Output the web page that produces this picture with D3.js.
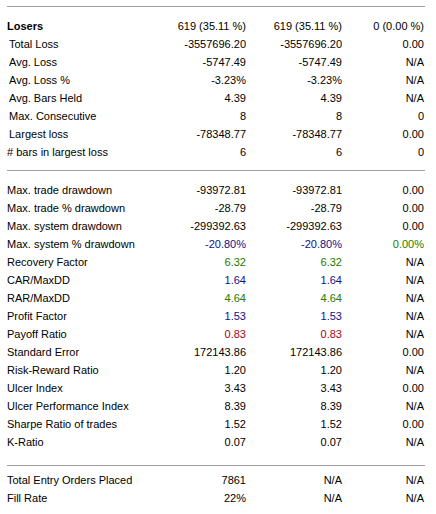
<!DOCTYPE html>
<html>
<head>
<meta charset="utf-8">
<script src="https://cdn.jsdelivr.net/npm/d3@7"></script>
<style>
html,body{margin:0;padding:0;background:#fff;}
svg{display:block;}
text{font-family:"Liberation Sans",Arial,sans-serif;font-size:11px;fill:#000;}
</style>
</head>
<body>
<svg id="chart" width="436" height="514"></svg>
<script>
// Section 1: Losers
const s1Labels = ["Losers","Total Loss","Avg. Loss","Avg. Loss %","Avg. Bars Held","Max. Consecutive","Largest loss","# bars in largest loss"];
const s1All   = ["619 (35.11 %)","-3557696.20","-5747.49","-3.23%","4.39","8","-78348.77","6"];
const s1Long  = ["619 (35.11 %)","-3557696.20","-5747.49","-3.23%","4.39","8","-78348.77","6"];
const s1Short = ["0 (0.00 %)","0.00","N/A","N/A","N/A","0","0.00","0"];

// Section 2: drawdown & ratios
const s2Labels = ["Max. trade drawdown","Max. trade % drawdown","Max. system drawdown","Max. system % drawdown","Recovery Factor","CAR/MaxDD","RAR/MaxDD","Profit Factor","Payoff Ratio","Standard Error","Risk-Reward Ratio","Ulcer Index","Ulcer Performance Index","Sharpe Ratio of trades","K-Ratio"];
const s2All   = ["-93972.81","-28.79","-299392.63","-20.80%","6.32","1.64","4.64","1.53","0.83","172143.86","1.20","3.43","8.39","1.52","0.07"];
const s2Long  = ["-93972.81","-28.79","-299392.63","-20.80%","6.32","1.64","4.64","1.53","0.83","172143.86","1.20","3.43","8.39","1.52","0.07"];
const s2Short = ["0.00","0.00","0.00","0.00%","N/A","N/A","N/A","N/A","N/A","0.00","N/A","0.00","N/A","0.00","N/A"];
// value colour class per row (columns 1-2), and column 3
const s2Tone   = ["","","","blue","green","blue","green","blue","red","","","","","",""];
const s2ToneS  = ["","","","green","","","","","","","","","","",""];

// Section 3: orders
const s3Labels = ["Total Entry Orders Placed","Fill Rate"];
const s3All   = ["7861","22%"];
const s3Long  = ["N/A","N/A"];
const s3Short = ["N/A","N/A"];

const tones = {"":"#000000", blue:"#10108a", green:"#207a00", red:"#a80018"};

const svg = d3.select("#chart");
const colX = d3.scaleOrdinal().domain(["all","long","short"]).range([246,342,424]);

function section(labels, vAll, vLong, vShort, top, opts) {
  opts = opts || {};
  const y = d3.scalePoint().domain(d3.range(labels.length)).range([top, top + 18*(labels.length-1)]);
  const g = svg.append("g");
  const rows = g.selectAll("g.row").data(labels.map((l,i)=>({l,i}))).join("g")
    .attr("transform", d=>`translate(0,${y(d.i)})`);
  rows.append("text")
    .attr("x", d => opts.labelX ? opts.labelX(d.i) : 7)
    .attr("y", 4)
    .style("font-weight", d => (opts.bold && d.i===0) ? "bold" : null)
    .text(d=>d.l);
  const cols = [["all",vAll,opts.tone],["long",vLong,opts.tone],["short",vShort,opts.toneS]];
  cols.forEach(([k,vals,tone])=>{
    rows.append("text")
      .attr("x", colX(k))
      .attr("y", 4)
      .attr("text-anchor","end")
      .style("fill", d => tones[tone ? tone[d.i] : ""])
      .text(d=>vals[d.i]);
  });
}

function rule(yPos){
  svg.append("line").attr("x1",7).attr("x2",425).attr("y1",yPos).attr("y2",yPos)
    .attr("stroke","#a0a0a0").attr("stroke-width",1).attr("shape-rendering","crispEdges");
}

rule(6.5);
section(s1Labels, s1All, s1Long, s1Short, 26, {bold:true, labelX: i => (i===0||i===7) ? 7 : 9});
rule(170.5);
section(s2Labels, s2All, s2Long, s2Short, 190, {tone:s2Tone, toneS:s2ToneS});
rule(465.5);
section(s3Labels, s3All, s3Long, s3Short, 480, {});
</script>
</body>
</html>
